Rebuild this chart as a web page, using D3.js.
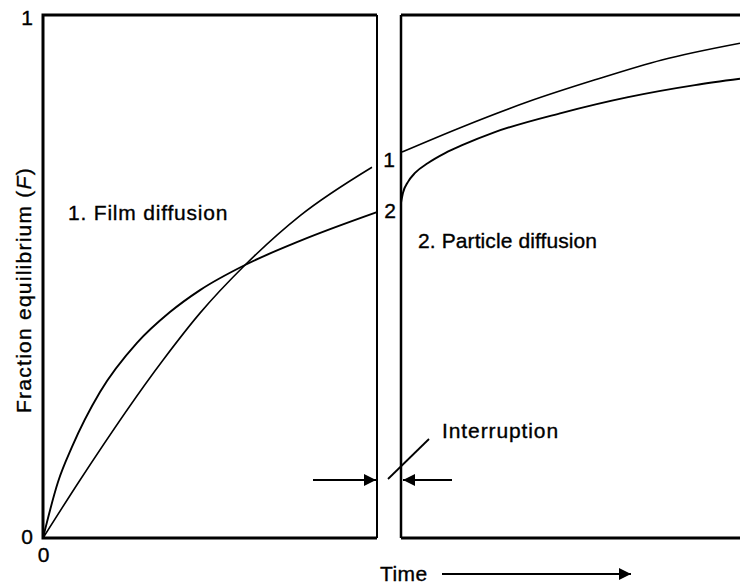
<!DOCTYPE html>
<html>
<head>
<meta charset="utf-8">
<script src="https://cdn.jsdelivr.net/npm/d3@7"></script>
<style>
  html, body { margin: 0; padding: 0; background: #fff; }
  svg { display: block; }
  text { font-family: "Liberation Sans", Arial, Helvetica, sans-serif; fill: #000; stroke: #000; stroke-width: 0.35px; }
</style>
</head>
<body>
<svg id="chart" width="740" height="586"></svg>
<script>
// ---- data ----
const yTicks = [0, 1];
const xTicks = [0];
// Stage 1: film diffusion (time units, F)
const filmT1 = [0, 1.11, 3.59, 4.70, 6.05, 7.69, 9.85];
const filmF1 = [0, 0.111, 0.340, 0.430, 0.522, 0.616, 0.709];
const filmT2 = [0, 0.449, 0.868, 1.707, 2.814, 3.802, 4.701, 6.048, 7.695, 10.0];
const filmF2 = [0, 0.107, 0.174, 0.279, 0.373, 0.432, 0.474, 0.522, 0.568, 0.623];
// Stage 2: particle diffusion after interruption
const partT1 = [10.03, 11.83, 13.80, 15.81, 17.81, 20.15];
const partF1 = [0.738, 0.786, 0.834, 0.876, 0.914, 0.946];
const partT2 = [10.0, 10.06, 10.21, 10.42, 10.81, 11.32, 11.83, 12.81, 14.82, 16.80, 18.80, 20.15];
const partF2 = [0.641, 0.660, 0.681, 0.698, 0.717, 0.736, 0.751, 0.776, 0.813, 0.843, 0.866, 0.878];
const curveLabels = ["1", "2"];
const panelTitles = ["1. Film diffusion", "2. Particle diffusion"];
const yTitle = "Fraction equilibrium (";
const yTitleVar = "F";
const xTitle = "Time";
const noteText = "Interruption";

// ---- scales ----
const svg = d3.select("#chart");
const y = d3.scaleLinear().domain([0, 1]).range([538, 15]);
const xL = d3.scaleLinear().domain([0, 10]).range([43, 377]);
const xR = d3.scaleLinear().domain([10, 20.15]).range([401, 740]);

const zip = (a, b) => a.map((v, i) => [v, b[i]]);

// ---- frames ----
const frame = svg.append("g").attr("fill", "none").attr("stroke", "#000");
frame.append("path").attr("stroke-width", 3)
  .attr("d", `M${xL(10)},${y(1)}H${xL(0)}V${y(0)}H${xL(10)}`);
frame.append("line").attr("stroke-width", 2)
  .attr("x1", xL(10)).attr("x2", xL(10)).attr("y1", y(1)).attr("y2", y(0));
frame.append("path").attr("stroke-width", 3)
  .attr("d", `M${xR(20.15)},${y(1)}H${xR(10)}`);
frame.append("path").attr("stroke-width", 3)
  .attr("d", `M${xR(10)},${y(0)}H${xR(20.15)}`);
frame.append("line").attr("stroke-width", 2.5)
  .attr("x1", xR(10)).attr("x2", xR(10)).attr("y1", y(1)).attr("y2", y(0));

// ---- axes (tick labels only) ----
const yAxis = svg.append("g").attr("transform", `translate(${xL(0)},0)`)
  .call(d3.axisLeft(y).tickValues(yTicks).tickSize(0).tickPadding(10).tickFormat(d3.format("d")));
yAxis.select(".domain").remove();
yAxis.selectAll("text").style("font-size", "21px").attr("font-family", null);
yAxis.selectAll(".tick").filter(d => d === 1).select("text").attr("dy", "0.45em");
yAxis.selectAll(".tick").filter(d => d === 0).select("text").attr("dy", "0.25em").attr("x", -10);

const xAxis = svg.append("g").attr("transform", `translate(0,${y(0)})`)
  .call(d3.axisBottom(xL).tickValues(xTicks).tickSize(0).tickPadding(9).tickFormat(d3.format("d")));
xAxis.select(".domain").remove();
xAxis.selectAll("text").style("font-size", "21px").attr("font-family", null);

// ---- curves ----
const lineL = d3.line().x(d => xL(d[0])).y(d => y(d[1])).curve(d3.curveMonotoneX);
const lineR = d3.line().x(d => xR(d[0])).y(d => y(d[1])).curve(d3.curveMonotoneX);
const curves = svg.append("g").attr("fill", "none").attr("stroke", "#000").attr("stroke-width", 1.6);
curves.append("path").attr("d", lineL(zip(filmT1, filmF1)));
curves.append("path").attr("d", lineL(zip(filmT2, filmF2))).attr("stroke-width", 1.9);
curves.append("path").attr("d", lineR(zip(partT1, partF1)));
curves.append("path").attr("d", lineR(zip(partT2, partF2))).attr("stroke-width", 1.9);

// curve labels in the gap
const gapX = (xL(10) + xR(10)) / 2;
svg.append("text").attr("x", gapX).attr("y", y(partF1[0]) + 15)
  .attr("text-anchor", "middle").style("font-size", "21px").text(curveLabels[0]);
svg.append("text").attr("x", gapX + 1).attr("y", y(partF2[0]) + 15)
  .attr("text-anchor", "middle").style("font-size", "21px").text(curveLabels[1]);

// panel titles
svg.append("text").attr("x", 68).attr("y", 220).style("font-size", "21px")
  .style("letter-spacing", "0.8px").text(panelTitles[0]);
svg.append("text").attr("x", 418).attr("y", 248).style("font-size", "21px")
  .style("letter-spacing", "0.1px").text(panelTitles[1]);

// y title
const yt = svg.append("text").attr("transform", "translate(31,290) rotate(-90)")
  .attr("text-anchor", "middle").style("font-size", "21px").style("letter-spacing", "1.25px");
yt.append("tspan").text(yTitle);
yt.append("tspan").style("font-style", "italic").text(yTitleVar);
yt.append("tspan").text(")");

// x title with arrow
svg.append("text").attr("x", 380).attr("y", 581).style("font-size", "21px")
  .style("letter-spacing", "0.4px").text(xTitle);
const defs = svg.append("defs");
defs.append("marker").attr("id", "ah").attr("viewBox", "0 0 10 10")
  .attr("refX", 10).attr("refY", 5).attr("markerUnits", "userSpaceOnUse")
  .attr("markerWidth", 26).attr("markerHeight", 12).attr("orient", "auto")
  .append("path").attr("d", "M0,0L10,5L0,10Z").attr("fill", "#000");
svg.append("line").attr("x1", 442).attr("x2", 631).attr("y1", 574).attr("y2", 574)
  .attr("stroke", "#000").attr("stroke-width", 1.8).attr("marker-end", "url(#ah)");

// interruption annotation
const arrowY = 480;
svg.append("line").attr("x1", 313).attr("x2", xL(10) - 1).attr("y1", arrowY).attr("y2", arrowY)
  .attr("stroke", "#000").attr("stroke-width", 2).attr("marker-end", "url(#ah)");
svg.append("line").attr("x1", 452).attr("x2", xR(10) + 2).attr("y1", arrowY).attr("y2", arrowY)
  .attr("stroke", "#000").attr("stroke-width", 2).attr("marker-end", "url(#ah)");
svg.append("line").attr("x1", 388).attr("y1", 479).attr("x2", 429).attr("y2", 439)
  .attr("stroke", "#000").attr("stroke-width", 1.8);
svg.append("text").attr("x", 442).attr("y", 438).style("font-size", "21px")
  .style("letter-spacing", "0.9px").text(noteText);
</script>
</body>
</html>
